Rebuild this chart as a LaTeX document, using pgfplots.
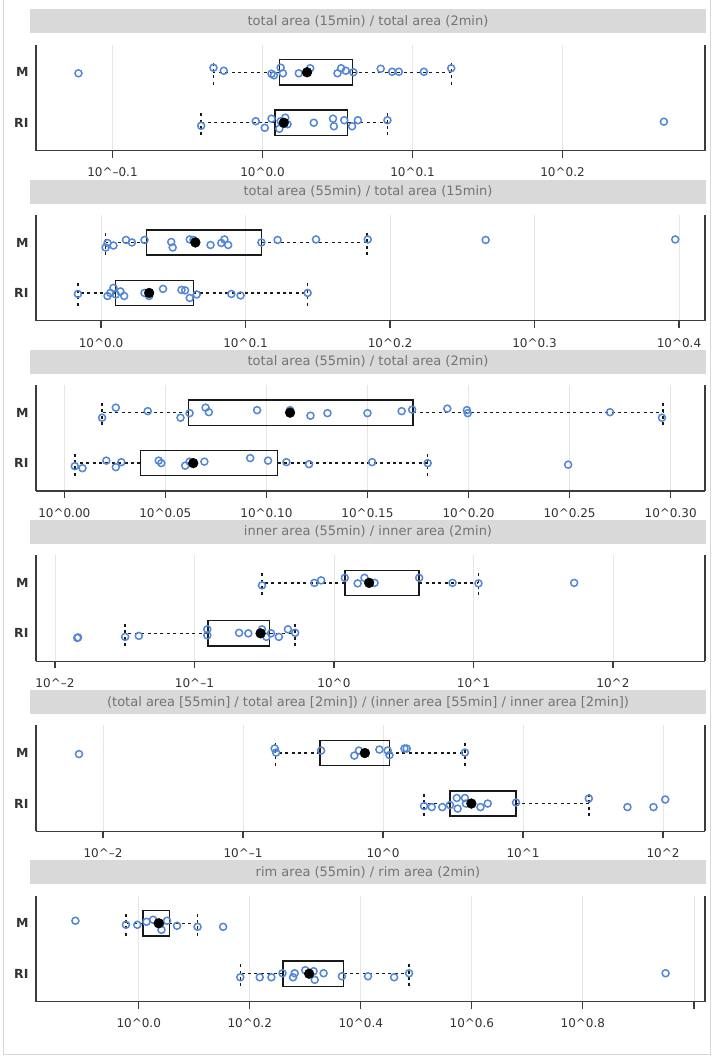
\documentclass[border=0pt]{standalone}
\usepackage{fontspec}
\setmainfont{DejaVu Sans}
\usepackage{pgfplots}
\pgfplotsset{compat=1.18}
\usepgfplotslibrary{statistics}
\definecolor{stripgray}{RGB}{217,217,217}
\definecolor{striptext}{RGB}{115,115,115}
\definecolor{gridgray}{RGB}{230,230,230}
\definecolor{axisgray}{RGB}{60,60,60}
\definecolor{ptblue}{RGB}{82,134,214}
\definecolor{labgray}{RGB}{50,50,50}
\definecolor{framegray}{RGB}{215,215,215}

\pgfplotsset{
  panel/.style={
    scale only axis, width=669pt, height=106pt,
    anchor=north west,
    ymin=0.45, ymax=2.55,
    ytick={1,2}, yticklabels={RI,M},
    yticklabel style={font=\fontsize{12.5}{14}\selectfont\bfseries, text=labgray, xshift=-4pt},
    ytick style={draw=none},
    axis x line*=bottom, axis y line*=box,
    axis line style={axisgray, line width=1.2pt},
    xtick align=outside,
    major tick length=7pt,
    xtick style={axisgray, line width=1.2pt},
    xticklabel style={font=\fontsize{12}{14}\selectfont, text=labgray, yshift=-7pt},
    xmajorgrids, grid style={gridgray, line width=0.8pt},
    title style={at={(0.5,1)}, anchor=south, yshift=5pt, xshift=-2.5pt,
      fill=stripgray, minimum width=676pt, minimum height=24pt, inner sep=0pt,
      text=striptext, font=\fontsize{13}{15}\selectfont},
  },
  bx/.style={boxplot prepared={#1, box extend=0.5, whisker extend=0.5},
    draw=black!90, line width=1.4pt, solid,
    boxplot/every whisker/.style={line width=1.4pt, dash pattern=on 3pt off 3.4pt},
    boxplot/every median/.style={draw=none}},
  pts/.style={only marks, mark=o, mark size=3.5pt, ptblue, line width=1.5pt, mark options={solid}},
  avg/.style={only marks, mark=*, mark size=4.9pt, black},
}

\begin{document}
\begin{tikzpicture}
\useasboundingbox (0pt,0pt) rectangle (714pt,-1058pt);
\draw[framegray, line width=1pt] (3pt,0pt) -- (3pt,-1054pt) -- (710pt,-1054pt) -- (710pt,0pt);

% ---------------- Panel 1
\begin{axis}[panel, at={(36pt,-44.5pt)},
  xmin=-0.151, xmax=0.295,
  xtick={-0.1,0,0.1,0.2},
  xticklabels={10\textasciicircum–0.1,10\textasciicircum0.0,10\textasciicircum0.1,10\textasciicircum0.2},
  title={total area (15min) / total area (2min)}]
\addplot[bx={lower whisker=-0.0327, lower quartile=0.0112, median=0.0112, upper quartile=0.0600, upper whisker=0.1258, draw position=2}] coordinates {};
\addplot[bx={lower whisker=-0.0409, lower quartile=0.0082, median=0.0082, upper quartile=0.0567, upper whisker=0.0833, draw position=1}] coordinates {};
\addplot[pts] coordinates {
(-0.1227,1.98) (-0.0327,2.09) (-0.0258,2.03) (0.0060,1.97) (0.0076,1.94) (0.0121,2.09)
(0.0136,1.98) (0.0242,1.98) (0.0318,2.08) (0.0500,1.98) (0.0524,2.08) (0.0555,2.03)
(0.0606,2.00) (0.0788,2.07) (0.0864,2.01) (0.0909,2.01) (0.1076,2.01) (0.1258,2.08)};
\addplot[pts] coordinates {
(-0.0409,0.94) (-0.0045,1.03) (0.0015,0.90) (0.0060,1.08) (0.0112,0.88) (0.0121,1.03)
(0.0152,1.10) (0.0167,0.97) (0.0342,1.00) (0.0470,1.08) (0.0476,0.93) (0.0545,1.05)
(0.0597,0.93) (0.0636,1.05) (0.0833,1.05) (0.2676,1.02)};
\addplot[avg] coordinates {(0.0297,2) (0.0142,1)};
\end{axis}

% ---------------- Panel 2
\begin{axis}[panel, at={(36pt,-214.7pt)},
  xmin=-0.045, xmax=0.418,
  xtick={0,0.1,0.2,0.3,0.4},
  xticklabels={10\textasciicircum0.0,10\textasciicircum0.1,10\textasciicircum0.2,10\textasciicircum0.3,10\textasciicircum0.4},
  title={total area (55min) / total area (15min)}]
\addplot[bx={lower whisker=0.0032, lower quartile=0.0314, median=0.0314, upper quartile=0.1110, upper whisker=0.1840, draw position=2}] coordinates {};
\addplot[bx={lower whisker=-0.0160, lower quartile=0.0102, median=0.0102, upper quartile=0.0640, upper whisker=0.1430, draw position=1}] coordinates {};
\addplot[pts] coordinates {
(0.0032,1.90) (0.0045,1.99) (0.0086,1.94) (0.0173,2.05) (0.0214,2.00) (0.0301,2.05)
(0.0486,2.01) (0.0496,1.90) (0.0614,2.06) (0.0640,2.05) (0.0758,1.95) (0.0832,1.99)
(0.0854,2.06) (0.0880,1.95) (0.1110,2.00) (0.1222,2.05) (0.1488,2.06) (0.1846,2.06)
(0.2662,2.05) (0.3974,2.06)};
\addplot[pts] coordinates {
(-0.0160,0.98) (0.0045,0.94) (0.0064,1.00) (0.0086,1.10) (0.0102,0.97) (0.0134,1.03)
(0.0160,0.94) (0.0301,1.00) (0.0333,0.94) (0.0429,1.08) (0.0557,1.06) (0.0582,1.05)
(0.0614,0.90) (0.0662,0.97) (0.0902,0.98) (0.0966,0.95) (0.1430,1.00)};
\addplot[avg] coordinates {(0.0653,2) (0.0333,1)};
\end{axis}

% ---------------- Panel 3
\begin{axis}[panel, at={(36pt,-384.9pt)},
  xmin=-0.014, xmax=0.317,
  xtick={0,0.05,0.1,0.15,0.2,0.25,0.3},
  xticklabels={10\textasciicircum0.00,10\textasciicircum0.05,10\textasciicircum0.10,10\textasciicircum0.15,10\textasciicircum0.20,10\textasciicircum0.25,10\textasciicircum0.30},
  title={total area (55min) / total area (2min)}]
\addplot[bx={lower whisker=0.0187, lower quartile=0.0616, median=0.0616, upper quartile=0.1726, upper whisker=0.2962, draw position=2}] coordinates {};
\addplot[bx={lower whisker=0.0052, lower quartile=0.0377, median=0.0377, upper quartile=0.1056, upper whisker=0.1798, draw position=1}] coordinates {};
\addplot[pts] coordinates {
(0.0187,1.90) (0.0255,2.10) (0.0413,2.03) (0.0575,1.90) (0.0620,1.99) (0.0699,2.10)
(0.0715,2.01) (0.0954,2.05) (0.1117,2.05) (0.1218,1.94) (0.1302,1.99) (0.1500,1.99)
(0.1669,2.03) (0.1721,2.06) (0.1895,2.08) (0.1992,2.05) (0.1996,1.99) (0.2700,2.01)
(0.2957,1.90)};
\addplot[pts] coordinates {
(0.0052,0.94) (0.0090,0.90) (0.0208,1.05) (0.0255,0.92) (0.0282,1.02) (0.0467,1.05)
(0.0480,1.00) (0.0598,0.95) (0.0620,1.03) (0.0693,1.03) (0.0920,1.10) (0.1008,1.05)
(0.1099,1.02) (0.1211,0.98) (0.1523,1.02) (0.1798,1.00) (0.2493,0.97)};
\addplot[avg] coordinates {(0.1117,2) (0.0638,1)};
\end{axis}

% ---------------- Panel 4
\begin{axis}[panel, at={(36pt,-555.1pt)},
  xmin=-2.136, xmax=2.66,
  xtick={-2,-1,0,1,2},
  xticklabels={10\textasciicircum–2,10\textasciicircum–1,10\textasciicircum0,10\textasciicircum1,10\textasciicircum2},
  title={inner area (55min) / inner area (2min)}]
\addplot[bx={lower whisker=-0.516, lower quartile=0.078, median=0.078, upper quartile=0.611, upper whisker=1.036, draw position=2}] coordinates {};
\addplot[bx={lower whisker=-1.497, lower quartile=-0.902, median=-0.902, upper quartile=-0.461, upper whisker=-0.278, draw position=1}] coordinates {};
\addplot[pts] coordinates {
(-0.516,1.95) (-0.140,2.00) (-0.092,2.05) (0.078,2.10) (0.170,1.99) (0.219,2.10)
(0.258,2.01) (0.291,2.00) (0.611,2.10) (0.850,2.00) (1.036,1.99) (1.722,2.00)};
\addplot[pts] coordinates {
(-1.840,0.91) (-1.835,0.92) (-1.497,0.93) (-1.399,0.95) (-0.908,0.96) (-0.908,1.08)
(-0.680,1.01) (-0.614,1.00) (-0.516,1.08) (-0.484,0.93) (-0.451,1.00) (-0.395,0.93)
(-0.330,1.08) (-0.278,1.01)};
\addplot[avg] coordinates {(0.252,2) (-0.526,1)};
\end{axis}

% ---------------- Panel 5
\begin{axis}[panel, at={(36pt,-725.3pt)},
  xmin=-2.479, xmax=2.30,
  xtick={-2,-1,0,1,2},
  xticklabels={10\textasciicircum–2,10\textasciicircum–1,10\textasciicircum0,10\textasciicircum1,10\textasciicircum2},
  title={(total area [55min] / total area [2min]) / (inner area [55min] / inner area [2min])}]
\addplot[bx={lower whisker=-0.767, lower quartile=-0.449, median=-0.449, upper quartile=0.046, upper whisker=0.585, draw position=2}] coordinates {};
\addplot[bx={lower whisker=0.293, lower quartile=0.478, median=0.478, upper quartile=0.950, upper whisker=1.470, draw position=1}] coordinates {};
\addplot[pts] coordinates {
(-2.172,1.98) (-0.774,2.09) (-0.764,2.01) (-0.442,2.05) (-0.205,1.95) (-0.172,2.05)
(-0.124,2.01) (-0.026,2.07) (0.033,2.05) (0.046,1.96) (0.153,2.09) (0.169,2.09)
(0.585,2.01)};
\addplot[pts] coordinates {
(0.293,0.95) (0.348,0.93) (0.423,0.93) (0.478,0.97) (0.527,1.11) (0.533,0.90)
(0.585,1.11) (0.592,1.00) (0.696,0.93) (0.748,1.00) (0.950,1.02) (1.470,1.10)
(1.746,0.93) (1.932,0.93) (2.016,1.08)};
\addplot[avg] coordinates {(-0.130,2) (0.631,1)};
\end{axis}

% ---------------- Panel 6
\begin{axis}[panel, at={(36pt,-895.5pt)},
  xmin=-0.185, xmax=1.02,
  xtick={0,0.2,0.4,0.6,0.8,1.0},
  xticklabels={10\textasciicircum0.0,10\textasciicircum0.2,10\textasciicircum0.4,10\textasciicircum0.6,10\textasciicircum0.8,{}},
  title={rim area (55min) / rim area (2min)}]
\addplot[bx={lower whisker=-0.023, lower quartile=0.008, median=0.008, upper quartile=0.055, upper whisker=0.106, draw position=2}] coordinates {};
\addplot[bx={lower whisker=0.183, lower quartile=0.260, median=0.260, upper quartile=0.369, upper whisker=0.487, draw position=1}] coordinates {};
\addplot[pts] coordinates {
(-0.114,2.05) (-0.023,1.97) (-0.0025,1.97) (0.014,2.03) (0.026,2.07) (0.039,2.00)
(0.041,1.87) (0.051,2.05) (0.069,1.95) (0.106,1.93) (0.152,1.93)};
\addplot[pts] coordinates {
(0.183,0.93) (0.218,0.93) (0.239,0.93) (0.259,1.01) (0.278,0.93) (0.281,1.01)
(0.300,1.07) (0.315,1.05) (0.317,0.88) (0.333,1.01) (0.366,0.95) (0.413,0.95)
(0.460,0.93) (0.487,1.01) (0.949,1.01)};
\addplot[avg] coordinates {(0.036,2) (0.307,1)};
\end{axis}
\end{tikzpicture}
\end{document}
